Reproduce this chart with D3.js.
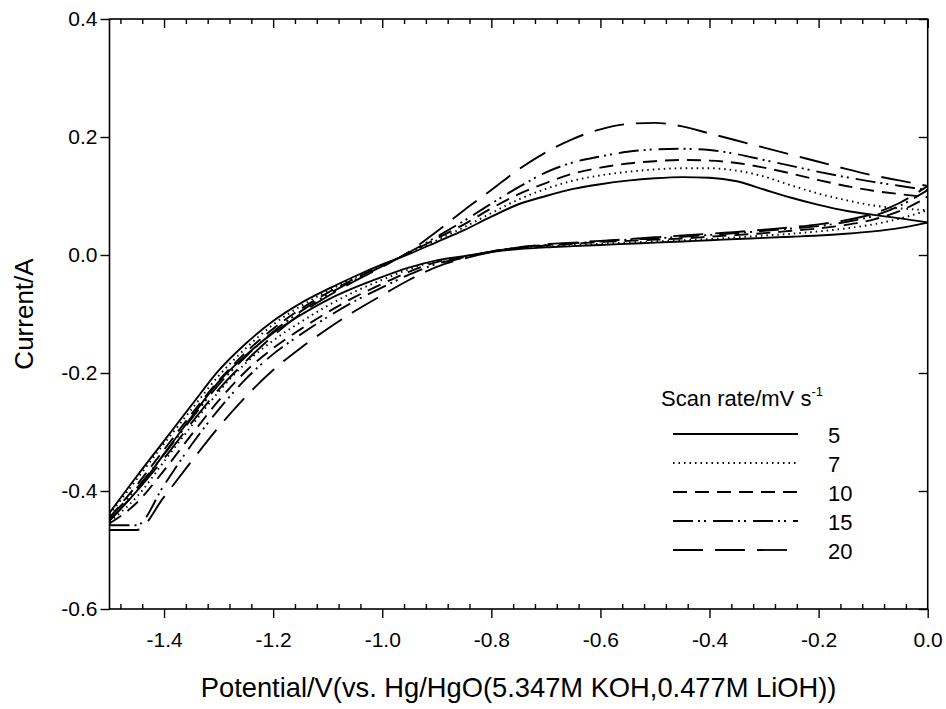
<!DOCTYPE html>
<html>
<head>
<meta charset="utf-8">
<script src="https://cdn.jsdelivr.net/npm/d3@7/dist/d3.min.js"></script>
<style>
  body { margin: 0; background: #fff; }
  svg { display: block; }
  text { font-family: "Liberation Sans", Arial, sans-serif; fill: #000; }
</style>
</head>
<body>
<svg id="chart" width="946" height="709"></svg>
<script>
// potential grid (V vs Hg/HgO), shared by all branches
const potential = [-1.5, -1.45, -1.4, -1.35, -1.3, -1.25, -1.2, -1.15, -1.1, -1.05,
                   -1.0, -0.95, -0.9, -0.85, -0.8, -0.75, -0.7, -0.65, -0.6, -0.55,
                   -0.5, -0.45, -0.4, -0.35, -0.3, -0.25, -0.2, -0.15, -0.1, -0.05, 0.0];

const scanRates = ["5", "7", "10", "15", "20"];

// upper branch (with the oxidation peak) and lower branch, current in A
const up5  = [-0.437, -0.375, -0.315, -0.255, -0.196, -0.150, -0.112, -0.082, -0.058, -0.036,
              -0.016, 0.002, 0.022, 0.042, 0.065, 0.086, 0.100, 0.112, 0.120, 0.126,
              0.130, 0.132, 0.131, 0.125, 0.111, 0.097, 0.085, 0.075, 0.068, 0.062, 0.055];
const lo5  = [-0.450, -0.400, -0.337, -0.275, -0.215, -0.170, -0.132, -0.102, -0.076, -0.055,
              -0.037, -0.021, -0.009, -0.002, 0.005, 0.010, 0.013, 0.015, 0.017, 0.019,
              0.021, 0.023, 0.025, 0.027, 0.029, 0.031, 0.033, 0.036, 0.040, 0.046, 0.055];

const up7  = [-0.440, -0.380, -0.320, -0.262, -0.205, -0.158, -0.118, -0.087, -0.061, -0.038,
              -0.017, 0.003, 0.025, 0.047, 0.071, 0.094, 0.112, 0.126, 0.135, 0.141,
              0.145, 0.147, 0.147, 0.143, 0.133, 0.118, 0.104, 0.093, 0.084, 0.079, 0.076];
const lo7  = [-0.452, -0.410, -0.350, -0.290, -0.232, -0.183, -0.145, -0.114, -0.086, -0.062,
              -0.042, -0.024, -0.010, -0.003, 0.006, 0.011, 0.014, 0.017, 0.019, 0.021,
              0.023, 0.025, 0.027, 0.030, 0.033, 0.036, 0.040, 0.045, 0.052, 0.062, 0.076];

const up10 = [-0.445, -0.390, -0.330, -0.270, -0.213, -0.165, -0.125, -0.092, -0.064, -0.040,
              -0.018, 0.004, 0.028, 0.052, 0.079, 0.103, 0.122, 0.138, 0.148, 0.155,
              0.159, 0.161, 0.160, 0.156, 0.148, 0.138, 0.127, 0.117, 0.109, 0.103, 0.098];
const lo10 = [-0.455, -0.420, -0.365, -0.305, -0.247, -0.197, -0.158, -0.126, -0.097, -0.071,
              -0.049, -0.028, -0.012, -0.004, 0.006, 0.012, 0.016, 0.019, 0.022, 0.024,
              0.026, 0.028, 0.031, 0.034, 0.037, 0.041, 0.045, 0.051, 0.060, 0.075, 0.098];

const up15 = [-0.445, -0.395, -0.338, -0.278, -0.220, -0.172, -0.130, -0.096, -0.067, -0.042,
              -0.019, 0.005, 0.031, 0.058, 0.087, 0.115, 0.140, 0.157, 0.167, 0.175,
              0.179, 0.180, 0.178, 0.171, 0.161, 0.151, 0.141, 0.132, 0.124, 0.117, 0.110];
const lo15 = [-0.458, -0.458, -0.390, -0.322, -0.262, -0.210, -0.168, -0.135, -0.105, -0.078,
              -0.055, -0.033, -0.015, -0.005, 0.006, 0.013, 0.017, 0.020, 0.023, 0.026,
              0.028, 0.031, 0.034, 0.037, 0.041, 0.045, 0.049, 0.056, 0.066, 0.084, 0.110];

const up20 = [-0.450, -0.400, -0.345, -0.285, -0.228, -0.180, -0.137, -0.100, -0.070, -0.044,
              -0.020, 0.006, 0.040, 0.076, 0.110, 0.145, 0.174, 0.197, 0.213, 0.222,
              0.224, 0.218, 0.206, 0.194, 0.182, 0.170, 0.158, 0.146, 0.135, 0.126, 0.117];
const lo20 = [-0.466, -0.466, -0.410, -0.350, -0.292, -0.240, -0.195, -0.158, -0.125, -0.095,
              -0.068, -0.042, -0.020, -0.006, 0.005, 0.013, 0.018, 0.021, 0.024, 0.027,
              0.030, 0.033, 0.036, 0.039, 0.043, 0.047, 0.052, 0.059, 0.070, 0.089, 0.117];

const xTicks = [-1.4, -1.2, -1.0, -0.8, -0.6, -0.4, -0.2, 0.0];
const yTicks = [-0.6, -0.4, -0.2, 0.0, 0.2, 0.4];

const series = [
  { rate: "5",  up: up5,  lo: lo5,  dash: null },
  { rate: "7",  up: up7,  lo: lo7,  dash: "1.5,4" },
  { rate: "10", up: up10, lo: lo10, dash: "14,8" },
  { rate: "15", up: up15, lo: lo15, dash: "20,5,2,4,2,7" },
  { rate: "20", up: up20, lo: lo20, dash: "30,12" }
];

const svg = d3.select("#chart");
const pLeft = 109.5, pRight = 927.7, pTop = 19, pBottom = 609;

const x = d3.scaleLinear().domain([-1.5, 0]).range([pLeft, pRight]);
const y = d3.scaleLinear().domain([-0.6, 0.4]).range([pBottom, pTop]);

svg.append("defs").append("clipPath").attr("id", "plotClip")
  .append("rect").attr("x", pLeft).attr("y", pTop)
  .attr("width", pRight - pLeft).attr("height", pBottom - pTop);

const line = d3.line()
  .x(d => x(d[0]))
  .y(d => y(d[1]))
  .curve(d3.curveMonotoneX);

const curves = svg.append("g").attr("clip-path", "url(#plotClip)");
series.forEach(s => {
  // both branches are single valued in potential, so draw each one on its own
  [s.up, s.lo].forEach(branch => {
    curves.append("path")
      .attr("d", line(potential.map((v, i) => [v, branch[i]])))
      .attr("fill", "none")
      .attr("stroke", "#000")
      .attr("stroke-width", 1.9)
      .attr("stroke-dasharray", s.dash);
  });
});

// frame
svg.append("rect").attr("x", pLeft).attr("y", pTop)
  .attr("width", pRight - pLeft).attr("height", pBottom - pTop)
  .attr("fill", "none").attr("stroke", "#000").attr("stroke-width", 1.6);

let minorX = d3.range(-1.48, -0.001, 0.04).filter(v => Math.abs(v / 0.2 - Math.round(v / 0.2)) > 0.01);

function styleAxis(g) {
  g.select(".domain").remove();
  g.selectAll(".tick line").attr("stroke", "#000").attr("stroke-width", 1.4);
  g.selectAll("text").style("font-size", "21px");
}

// bottom: major outward, minor inward
svg.append("g").attr("transform", `translate(0,${pBottom})`)
  .call(d3.axisBottom(x).tickValues(xTicks).tickSize(9).tickPadding(14).tickFormat(d => d.toFixed(1)))
  .call(styleAxis);
svg.append("g").attr("transform", `translate(0,${pBottom})`)
  .call(d3.axisBottom(x).tickValues(minorX).tickSize(-5).tickFormat(""))
  .call(styleAxis);

// top: inward ticks
svg.append("g").attr("transform", `translate(0,${pTop})`)
  .call(d3.axisTop(x).tickValues(minorX).tickSize(-5).tickFormat(""))
  .call(styleAxis);
svg.append("g").attr("transform", `translate(0,${pTop})`)
  .call(d3.axisTop(x).tickValues(xTicks).tickSize(-9).tickFormat(""))
  .call(styleAxis);

// left: major outward
svg.append("g").attr("transform", `translate(${pLeft},0)`)
  .call(d3.axisLeft(y).tickValues(yTicks).tickSize(9).tickPadding(3).tickFormat(d => d.toFixed(1)))
  .call(styleAxis);
// right: inward
svg.append("g").attr("transform", `translate(${pRight},0)`)
  .call(d3.axisRight(y).tickValues(yTicks).tickSize(-9).tickFormat(""))
  .call(styleAxis);

// axis titles
svg.append("text")
  .attr("x", (pLeft + pRight) / 2).attr("y", 697)
  .attr("text-anchor", "middle").style("font-size", "27.3px")
  .text("Potential/V(vs. Hg/HgO(5.347M KOH,0.477M LiOH))");

svg.append("text")
  .attr("transform", `translate(33,${(pTop + pBottom) / 2}) rotate(-90)`)
  .attr("text-anchor", "middle").style("font-size", "26px")
  .text("Current/A");

// legend
const legend = svg.append("g");
const title = legend.append("text").attr("x", 661).attr("y", 406).style("font-size", "22px");
title.append("tspan").text("Scan rate/mV s");
title.append("tspan").attr("dy", -10).style("font-size", "13px").text("-1");

const legendY = d3.scalePoint().domain(scanRates).range([434, 550]);
series.forEach(s => {
  legend.append("line")
    .attr("x1", 673).attr("x2", 798)
    .attr("y1", legendY(s.rate)).attr("y2", legendY(s.rate))
    .attr("stroke", "#000").attr("stroke-width", 1.8)
    .attr("stroke-dasharray", s.dash);
  legend.append("text")
    .attr("x", 828).attr("y", legendY(s.rate) + 9)
    .style("font-size", "22px")
    .text(s.rate);
});
</script>
</body>
</html>
